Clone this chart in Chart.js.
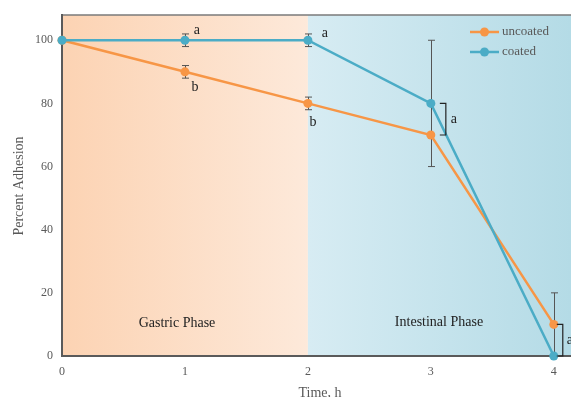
<!DOCTYPE html>
<html>
<head>
<meta charset="utf-8">
<script src="https://cdn.jsdelivr.net/npm/chart.js@4.4.0/dist/chart.umd.min.js"></script>
<style>
  html, body { margin: 0; padding: 0; background: #fff; }
</style>
</head>
<body>
<canvas id="chart_1" width="571" height="397"></canvas>
<script>
//Chart values
let time_points = [0, 1, 2, 3, 4];
let uncoated_values = [100, 90, 80, 70, 10];
let coated_values = [100, 100, 100, 80, 0];
let uncoated_err = [0, 2, 2, 0, 10];
let coated_err = [0, 2, 2, 20, 0];
let series_names = ['uncoated', 'coated'];
let phase_names = ['Gastric Phase', 'Intestinal Phase'];
let phase_split = 2;
let y_ticks = [0, 20, 40, 60, 80, 100];
let x_ticks = [0, 1, 2, 3, 4];

//Colours
let orange = '#f79646';
let blue = '#4bacc6';
let axis_grey = '#595959';
let serif = '"Liberation Serif", "Times New Roman", serif';

let chart_canvas1 = document.getElementById('chart_1');

const to_points = (values) => values.map((v, i) => ({ x: time_points[i], y: v }));

//Backgrounds, error bars, brackets, letters and legend
const extras_plugin = {
    id: 'extras',
    beforeDraw(chart) {
        const { ctx, chartArea: a, scales: { x } } = chart;
        const split = x.getPixelForValue(phase_split);
        ctx.save();
        let g1 = ctx.createLinearGradient(a.left, 0, split, 0);
        g1.addColorStop(0, '#fcd3b3');
        g1.addColorStop(1, '#fde9da');
        ctx.fillStyle = g1;
        ctx.fillRect(a.left, a.top, split - a.left, a.bottom - a.top);
        let g2 = ctx.createLinearGradient(split, 0, a.right, 0);
        g2.addColorStop(0, '#d7ecf3');
        g2.addColorStop(1, '#b4dbe6');
        ctx.fillStyle = g2;
        ctx.fillRect(split, a.top, a.right - split, a.bottom - a.top);
        //top frame line
        ctx.strokeStyle = '#7a7a7a';
        ctx.lineWidth = 1.5;
        ctx.beginPath();
        ctx.moveTo(a.left, a.top);
        ctx.lineTo(a.right, a.top);
        ctx.stroke();
        ctx.restore();
    },
    beforeDatasetsDraw(chart) {
        const { ctx, scales: { x, y } } = chart;
        ctx.save();
        ctx.strokeStyle = '#555';
        ctx.lineWidth = 1;
        const draw_err = (values, errs) => {
            values.forEach((v, i) => {
                if (!errs[i]) return;
                const px = Math.round(x.getPixelForValue(time_points[i])) + 0.5;
                const top = y.getPixelForValue(v + errs[i]);
                const bot = y.getPixelForValue(v - errs[i]);
                ctx.beginPath();
                ctx.moveTo(px, top); ctx.lineTo(px, bot);
                ctx.moveTo(px - 3.5, top); ctx.lineTo(px + 3.5, top);
                ctx.moveTo(px - 3.5, bot); ctx.lineTo(px + 3.5, bot);
                ctx.stroke();
            });
        };
        draw_err(uncoated_values, uncoated_err);
        draw_err(coated_values, coated_err);
        ctx.restore();
    },
    afterDraw(chart) {
        const { ctx, chartArea: a, scales: { x, y } } = chart;
        ctx.save();
        //significance letters
        ctx.fillStyle = '#222';
        ctx.font = '14px ' + serif;
        ctx.textAlign = 'center';
        ctx.textBaseline = 'middle';
        const letter = (t, i, v, dx, dy) => {
            ctx.fillText(t, x.getPixelForValue(time_points[i]) + dx, y.getPixelForValue(v) + dy);
        };
        letter('a', 1, coated_values[1], 12, -10);
        letter('b', 1, uncoated_values[1], 10, 15);
        letter('a', 2, coated_values[2], 17, -7);
        letter('b', 2, uncoated_values[2], 5, 19);

        //brackets between the two series
        ctx.strokeStyle = '#222';
        ctx.lineWidth = 1.2;
        const bracket = (i, bx, tick, lx) => {
            const px = x.getPixelForValue(time_points[i]);
            const t = y.getPixelForValue(Math.max(coated_values[i], uncoated_values[i]));
            const b = y.getPixelForValue(Math.min(coated_values[i], uncoated_values[i]));
            ctx.beginPath();
            ctx.moveTo(px + bx - tick, t);
            ctx.lineTo(px + bx, t);
            ctx.lineTo(px + bx, b);
            ctx.lineTo(px + bx - tick, b);
            ctx.stroke();
            ctx.fillText('a', px + lx, (t + b) / 2);
        };
        bracket(3, 15, 6, 23);
        bracket(4, 9, 6, 16);

        //phase labels
        ctx.font = '14px ' + serif;
        ctx.fillText(phase_names[0], 177, 323);
        ctx.fillText(phase_names[1], 439, 322);

        //axis titles
        ctx.fillStyle = axis_grey;
        ctx.fillText('Time, h', 320, 393);
        ctx.translate(19, 186);
        ctx.rotate(-Math.PI / 2);
        ctx.fillText('Percent Adhesion', 0, 0);
        ctx.setTransform(1, 0, 0, 1, 0, 0);

        //legend
        const leg = (name, colour, ly) => {
            ctx.strokeStyle = colour;
            ctx.lineWidth = 2.5;
            ctx.beginPath();
            ctx.moveTo(470, ly); ctx.lineTo(499, ly);
            ctx.stroke();
            ctx.fillStyle = colour;
            ctx.beginPath();
            ctx.arc(484.5, ly, 4.5, 0, Math.PI * 2);
            ctx.fill();
            ctx.fillStyle = axis_grey;
            ctx.font = '13px ' + serif;
            ctx.textAlign = 'left';
            ctx.fillText(name, 502, ly);
        };
        leg(series_names[0], orange, 32);
        leg(series_names[1], blue, 52);
        ctx.restore();
    }
};

let chart = new Chart(chart_canvas1, {
    type: 'line',
    data: {
        datasets: [{
            label: series_names[0],
            data: to_points(uncoated_values),
            borderColor: orange,
            backgroundColor: orange,
            borderWidth: 2.5,
            pointRadius: 4.5,
            pointBorderWidth: 0,
            tension: 0,
            clip: false,
            order: 1
        }, {
            label: series_names[1],
            data: to_points(coated_values),
            borderColor: blue,
            backgroundColor: blue,
            borderWidth: 2.5,
            pointRadius: 4.5,
            pointBorderWidth: 0,
            tension: 0,
            clip: false,
            order: 0
        }]
    },
    options: {
        responsive: false,
        animation: false,
        devicePixelRatio: 1,
        layout: { autoPadding: false, padding: { top: 15, right: 0, left: 0, bottom: 0 } },
        plugins: {
            legend: { display: false },
            tooltip: { enabled: false }
        },
        scales: {
            x: {
                type: 'linear',
                min: 0,
                max: 4.14,
                afterFit: (s) => { s.height = 41; s.paddingLeft = 0; s.paddingRight = 0; },
                afterBuildTicks: (s) => { s.ticks = x_ticks.map(v => ({ value: v })); },
                grid: { display: false, drawTicks: false },
                border: { display: true, color: '#5a5a5a', width: 2 },
                ticks: {
                    padding: 9,
                    color: axis_grey,
                    font: { family: serif, size: 12 },
                    maxRotation: 0
                }
            },
            y: {
                min: 0,
                max: 108,
                afterFit: (s) => { s.width = 62; s.paddingTop = 0; s.paddingBottom = 0; },
                afterBuildTicks: (s) => { s.ticks = y_ticks.map(v => ({ value: v })); },
                grid: { display: false, drawTicks: false },
                border: { display: true, color: '#5a5a5a', width: 2 },
                ticks: {
                    padding: 9,
                    color: axis_grey,
                    font: { family: serif, size: 12 }
                }
            }
        }
    },
    plugins: [extras_plugin]
});
</script>
</body>
</html>
